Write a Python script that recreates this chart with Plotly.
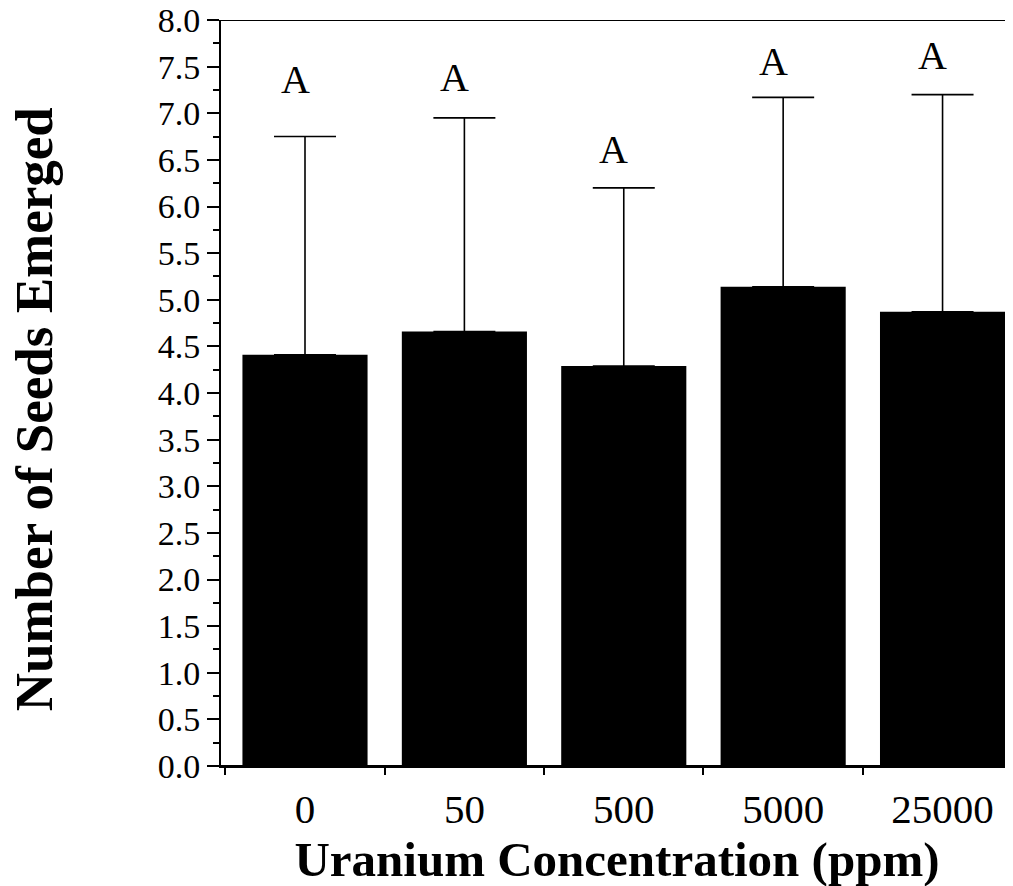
import plotly.graph_objects as go

categories = ["0", "50", "500", "5000", "25000"]
means = [4.41, 4.66, 4.29, 5.14, 4.87]
err_top = [6.75, 6.95, 6.20, 7.17, 7.20]
letters = ["A", "A", "A", "A", "A"]
letter_y = [7.36, 7.38, 6.61, 7.55, 7.62]

err_plus = [t - m for t, m in zip(err_top, means)]

serif = "Liberation Serif, Times New Roman, serif"

fig = go.Figure()
fig.add_trace(go.Bar(
    x=categories, y=means, width=0.785,
    marker=dict(color="black", line=dict(width=0)),
    error_y=dict(type="data", symmetric=False, array=err_plus,
                 arrayminus=[0] * len(means), color="black",
                 thickness=1.6, width=31),
    showlegend=False,
))

for i, (lt, ly) in enumerate(zip(letters, letter_y)):
    fig.add_annotation(x=i, y=ly, text=lt, showarrow=False, xshift=-10,
                       font=dict(family=serif, size=40, color="black"),
                       yanchor="middle")

# y-axis title as rotated annotation
fig.add_annotation(xref="paper", yref="paper", x=-0.235, y=0.478,
                   text="<b>Number of Seeds Emerged</b>", textangle=-90,
                   showarrow=False, xanchor="center", yanchor="middle",
                   font=dict(family=serif, size=53, color="black"))

# frame lines (top border and extended baseline)
fig.add_shape(type="line", xref="paper", x0=0, x1=1.02, yref="y", y0=8, y1=8,
              line=dict(color="black", width=2))
fig.add_shape(type="line", xref="paper", x0=0, x1=1.02, yref="y", y0=0, y1=0,
              line=dict(color="black", width=2))

fig.update_layout(
    width=1013, height=886,
    margin=dict(l=213, r=8, t=12, b=128),
    paper_bgcolor="white", plot_bgcolor="white",
    font=dict(family=serif, color="black"),
    xaxis=dict(
        type="category", range=[-0.527, 4.442], tickson="boundaries",
        automargin=False,
        showline=True, linecolor="black", linewidth=2,
        ticks="outside", ticklen=7, tickwidth=2, tickcolor="black",
        showgrid=False, zeroline=False,
        tickfont=dict(family=serif, size=41, color="black"),
        ticklabelstandoff=6,
        title=dict(text="<b>Uranium Concentration (ppm)</b>",
                   font=dict(family=serif, size=49, color="black"),
                   standoff=4),
    ),
    yaxis=dict(
        range=[0, 8], dtick=0.5, tickformat=".1f",
        automargin=False, ticklabeloverflow="allow",
        showline=True, linecolor="black", linewidth=2,
        ticks="outside", ticklen=12, tickwidth=2, tickcolor="black",
        minor=dict(dtick=0.25, ticks="outside", ticklen=6, tickwidth=2,
                   tickcolor="black", showgrid=False),
        showgrid=False, zeroline=False,
        tickfont=dict(family=serif, size=34, color="black"),
    ),
)

fig.write_html("out.html")
